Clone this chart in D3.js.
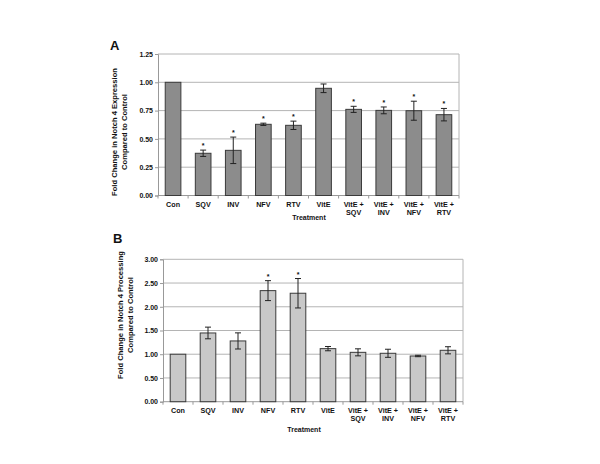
<!DOCTYPE html>
<html>
<head>
<meta charset="utf-8">
<script src="https://cdn.jsdelivr.net/npm/d3@7"></script>
<style>
body { margin: 0; background: #fff; }
text { font-family: "Liberation Sans", Arial, sans-serif; font-weight: bold; fill: #111; }
</style>
</head>
<body>
<div id="chart"></div>
<script>
// treatment groups (shared by both panels)
const treatments = ["Con", "SQV", "INV", "NFV", "RTV", "VitE", "VitE + SQV", "VitE + INV", "VitE + NFV", "VitE + RTV"];

// panel A - Notch 4 expression
const exprValues = [1.00, 0.373, 0.399, 0.629, 0.62, 0.947, 0.761, 0.752, 0.749, 0.714];
const exprErrors = [0, 0.028, 0.117, 0.01, 0.037, 0.038, 0.027, 0.03, 0.084, 0.055];
const exprStars = [false, true, true, true, true, false, true, true, true, true];
const exprTicks = [0, 0.25, 0.5, 0.75, 1.0, 1.25];

// panel B - Notch 4 processing
const procValues = [1.00, 1.448, 1.28, 2.34, 2.285, 1.118, 1.04, 1.02, 0.963, 1.083];
const procErrors = [0, 0.123, 0.17, 0.21, 0.31, 0.045, 0.074, 0.085, 0.015, 0.075];
const procStars = [false, false, false, true, true, false, false, false, false, false];
const procTicks = [0, 0.5, 1.0, 1.5, 2.0, 2.5, 3.0];

const svg = d3.select("#chart").append("svg")
  .attr("width", 600).attr("height", 464);

function panel(opt) {
  const g = svg.append("g");
  const x = d3.scaleBand().domain(treatments).range([opt.left, opt.right]).paddingInner(0.48).paddingOuter(0.24);
  const y = d3.scaleLinear().domain([0, opt.max]).range([opt.bottom, opt.top]);

  // gridlines
  g.selectAll(".grid").data(opt.ticks.filter(t => t > 0)).enter().append("line")
    .attr("x1", opt.left).attr("x2", opt.right)
    .attr("y1", d => y(d)).attr("y2", d => y(d))
    .attr("stroke", "#b4b4b4").attr("stroke-width", 1);

  // right border
  g.append("line").attr("x1", opt.right).attr("x2", opt.right)
    .attr("y1", opt.top).attr("y2", opt.bottom).attr("stroke", "#b4b4b4");

  // y axis
  const yAxis = g.append("g").attr("transform", `translate(${opt.left},0)`)
    .call(d3.axisLeft(y).tickValues(opt.ticks).tickFormat(d3.format(".2f")).tickSize(3).tickPadding(2));
  yAxis.select(".domain").attr("stroke", "#999");
  yAxis.selectAll(".tick line").attr("stroke", "#999");
  yAxis.selectAll("text").attr("font-size", 7);

  // x axis baseline with boundary ticks
  g.append("line").attr("x1", opt.left).attr("x2", opt.right)
    .attr("y1", opt.bottom).attr("y2", opt.bottom).attr("stroke", "#999");
  const step = x.step();
  g.selectAll(".xt").data(d3.range(treatments.length + 1)).enter().append("line")
    .attr("x1", i => opt.left + i * step).attr("x2", i => opt.left + i * step)
    .attr("y1", opt.bottom).attr("y2", opt.bottom + 3).attr("stroke", "#999");

  // bars
  g.selectAll(".bar").data(treatments).enter().append("rect")
    .attr("x", d => x(d)).attr("width", x.bandwidth())
    .attr("y", (d, i) => y(opt.values[i]))
    .attr("height", (d, i) => y(0) - y(opt.values[i]))
    .attr("fill", opt.fill).attr("stroke", "#3a3a3a").attr("stroke-width", 1);

  // error bars
  const eb = g.selectAll(".err").data(treatments).enter().append("g")
    .filter((d, i) => opt.errors[i] > 0);
  const cx = d => x(d) + x.bandwidth() / 2;
  const idx = d => treatments.indexOf(d);
  eb.append("line").attr("x1", cx).attr("x2", cx)
    .attr("y1", d => y(opt.values[idx(d)] + opt.errors[idx(d)]))
    .attr("y2", d => y(opt.values[idx(d)] - opt.errors[idx(d)]))
    .attr("stroke", "#222");
  [1, -1].forEach(s => {
    eb.append("line").attr("x1", d => cx(d) - 3).attr("x2", d => cx(d) + 3)
      .attr("y1", d => y(opt.values[idx(d)] + s * opt.errors[idx(d)]))
      .attr("y2", d => y(opt.values[idx(d)] + s * opt.errors[idx(d)]))
      .attr("stroke", "#222");
  });

  // asterisks
  g.selectAll(".star").data(treatments.filter((d, i) => opt.stars[i])).enter().append("text")
    .attr("x", cx)
    .attr("y", d => y(opt.values[idx(d)] + opt.errors[idx(d)]) - 2)
    .attr("text-anchor", "middle").attr("font-size", 7).attr("font-weight", "normal")
    .attr("fill", "#444")
    .text("*");

  // category labels
  const lab = g.selectAll(".cat").data(treatments).enter().append("text")
    .attr("x", cx).attr("y", opt.bottom + 11)
    .attr("text-anchor", "middle").attr("font-size", 7.2);
  lab.each(function(d) {
    const parts = d.indexOf(" + ") > 0 ? ["VitE +", d.split(" + ")[1]] : [d];
    d3.select(this).selectAll("tspan").data(parts).enter().append("tspan")
      .attr("x", cx(d)).attr("dy", (p, j) => j === 0 ? 0 : 8.6).text(p => p);
  });

  g.append("text").attr("x", opt.titleX).attr("y", opt.titleY)
    .attr("text-anchor", "middle").attr("font-size", 7).text("Treatment");

  // y title
  const yt = g.append("text").attr("text-anchor", "middle").attr("font-size", 7.6)
    .attr("transform", `translate(${opt.yTitleX},${opt.yTitleY}) rotate(-90)`);
  yt.append("tspan").attr("x", 0).attr("dy", 0).text(opt.yTitle1);
  yt.append("tspan").attr("x", 0).attr("dy", 10).text(opt.yTitle2);

  g.append("text").attr("x", opt.letterX).attr("y", opt.letterY)
    .attr("font-size", 13).text(opt.letter);
}

panel({
  letter: "A", letterX: 110, letterY: 50,
  left: 158, right: 459, top: 54, bottom: 195.5, max: 1.25,
  ticks: exprTicks, values: exprValues, errors: exprErrors, stars: exprStars,
  fill: "#8c8c8c", titleX: 309, titleY: 220,
  yTitleX: 117, yTitleY: 132,
  yTitle1: "Fold Change in Notch 4 Expression", yTitle2: "Compared to Control"
});

panel({
  letter: "B", letterX: 113, letterY: 243,
  left: 163, right: 463, top: 259.3, bottom: 401.7, max: 3.0,
  ticks: procTicks, values: procValues, errors: procErrors, stars: procStars,
  fill: "#c8c8c8", titleX: 304, titleY: 432,
  yTitleX: 123, yTitleY: 315,
  yTitle1: "Fold Change in Notch 4 Processing", yTitle2: "Compared to Control"
});
</script>
</body>
</html>
